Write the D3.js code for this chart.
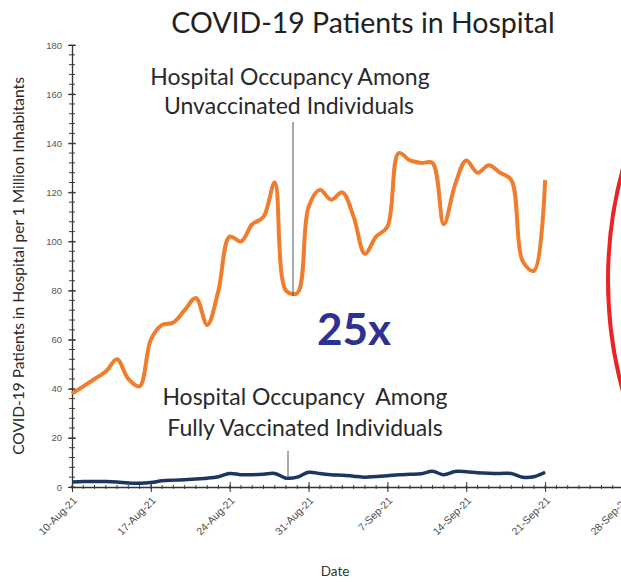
<!DOCTYPE html>
<html>
<head>
<meta charset="utf-8">
<script src="https://cdn.jsdelivr.net/npm/d3@7"></script>
<style>
  body { margin: 0; background: #fff; }
  svg { display: block; font-family: Lato, "Open Sans", sans-serif; }
</style>
</head>
<body>
<svg id="chart" width="621" height="582"></svg>
<script>
// Days from 10-Aug-21 to 21-Sep-21
const startDate = new Date(2021, 7, 10);
const dayCount = 43;

const unvaccinated = [
  38, 41, 44, 47, 52, 44, 41, 60, 66, 67,
  72, 77, 66, 80, 102, 100, 107, 110, 124, 80,
  79, 114, 121, 117, 120, 110, 95, 102, 106, 136,
  133, 132, 132, 107, 123, 133, 128, 131, 128, 125,
  92, 88, 125
];

const vaccinated = [
  2, 2.2, 2.2, 2.2, 2, 1.6, 1.5, 1.8, 2.5, 2.8,
  3, 3.3, 3.6, 4.2, 5.5, 5, 5, 5.2, 5.5, 3.6,
  4, 6, 5.5, 5, 4.8, 4.4, 4, 4.3, 4.6, 5,
  5.2, 5.4, 6.4, 5, 6.3, 6.2, 5.8, 5.6, 5.5, 5.5,
  4, 4.2, 6
];

const yTicks = [0, 20, 40, 60, 80, 100, 120, 140, 160, 180];
const xTickDates = ['2021-08-10', '2021-08-17', '2021-08-24', '2021-08-31',
  '2021-09-07', '2021-09-14', '2021-09-21', '2021-09-28'];

const dates = d3.range(dayCount).map(i => d3.timeDay.offset(startDate, i));

const svg = d3.select('#chart');

const x = d3.scaleTime()
  .domain([startDate, new Date(2021, 8, 28)])
  .range([72, 624]);

const y = d3.scaleLinear()
  .domain([0, 180])
  .range([487, 45]);

// Minor ticks
const g = svg.append('g');
g.selectAll('.ymin')
  .data(d3.range(0, 181, 4))
  .enter().append('line')
  .attr('x1', 69).attr('x2', 75)
  .attr('y1', d => y(d)).attr('y2', d => y(d))
  .attr('stroke', '#444').attr('stroke-width', 1);

g.selectAll('.xmin')
  .data(d3.timeDay.range(startDate, new Date(2021, 9, 1)))
  .enter().append('line')
  .attr('x1', d => x(d)).attr('x2', d => x(d))
  .attr('y1', 485).attr('y2', 489)
  .attr('stroke', '#444').attr('stroke-width', 1);

// Y axis
const yAxis = svg.append('g')
  .attr('transform', 'translate(72,0)')
  .call(d3.axisLeft(y).tickValues(yTicks).tickSize(0).tickPadding(10));
yAxis.select('.domain').attr('stroke', '#333').attr('stroke-width', 1.3);
yAxis.selectAll('text').attr('fill', '#555').attr('font-size', '9.5px');
yAxis.selectAll('.tick').append('line')
  .attr('x1', -4).attr('x2', 4).attr('stroke', '#333');

// X axis
const xAxis = svg.append('g')
  .attr('transform', 'translate(0,487)')
  .call(d3.axisBottom(x)
    .tickValues(xTickDates.map(d => d3.timeParse('%Y-%m-%d')(d)))
    .tickFormat(d3.timeFormat('%-d-%b-%y'))
    .tickSize(0));
xAxis.select('.domain').attr('stroke', '#333').attr('stroke-width', 1.3);
xAxis.selectAll('.tick').append('line')
  .attr('y1', -5).attr('y2', 5).attr('stroke', '#333');
xAxis.selectAll('text')
  .attr('fill', '#4a4a4a')
  .attr('font-size', '10.5px')
  .attr('text-anchor', 'end')
  .attr('dy', 0)
  .attr('transform', 'translate(3,12) rotate(-45)');

// Lines
const line = d3.line()
  .x((d, i) => x(dates[i]))
  .y(d => y(d))
  .curve(d3.curveCatmullRom.alpha(0.5));

svg.append('path')
  .datum(unvaccinated)
  .attr('d', line)
  .attr('fill', 'none')
  .attr('stroke', '#ef7d2c')
  .attr('stroke-width', 4)
  .attr('stroke-linejoin', 'round');

svg.append('path')
  .datum(vaccinated)
  .attr('d', line)
  .attr('fill', 'none')
  .attr('stroke', '#1d3660')
  .attr('stroke-width', 3.5)
  .attr('stroke-linejoin', 'round');

// Title and labels
svg.append('text')
  .attr('x', 363).attr('y', 33)
  .attr('text-anchor', 'middle')
  .attr('font-size', '28.5px')
  .attr('fill', '#222')
  .text('COVID-19 Patients in Hospital');

svg.append('text')
  .attr('transform', 'translate(24,266) rotate(-90)')
  .attr('text-anchor', 'middle')
  .attr('font-size', '15.5px')
  .attr('fill', '#2a2a2a')
  .text('COVID-19 Patients in Hospital per 1 Million Inhabitants');

svg.append('text')
  .attr('x', 335).attr('y', 576)
  .attr('text-anchor', 'middle')
  .attr('font-size', '13.5px')
  .attr('fill', '#333')
  .text('Date');

// Annotations
const ann = svg.append('g')
  .attr('font-size', '23px')
  .attr('fill', '#2a2a2a')
  .attr('text-anchor', 'middle');
ann.append('text').attr('x', 290).attr('y', 85).text('Hospital Occupancy Among');
ann.append('text').attr('x', 289).attr('y', 114).text('Unvaccinated Individuals');
ann.append('text').attr('x', 305).attr('y', 405).attr('xml:space', 'preserve').text('Hospital Occupancy  Among');
ann.append('text').attr('x', 305).attr('y', 436).text('Fully Vaccinated Individuals');

svg.append('line')
  .attr('x1', 293).attr('x2', 293).attr('y1', 122).attr('y2', 296)
  .attr('stroke', '#555').attr('stroke-width', 1);
svg.append('line')
  .attr('x1', 288).attr('x2', 288).attr('y1', 451).attr('y2', 478)
  .attr('stroke', '#555').attr('stroke-width', 1);

svg.append('text')
  .attr('x', 354).attr('y', 345)
  .attr('text-anchor', 'middle')
  .attr('font-size', '44px')
  .attr('font-weight', 'bold')
  .attr('fill', '#2e3192')
  .text('25x');

// Red highlight arc
svg.append('circle')
  .attr('cx', 1030).attr('cy', 280).attr('r', 422)
  .attr('fill', 'none')
  .attr('stroke', '#ed2224')
  .attr('stroke-width', 4);
</script>
</body>
</html>
